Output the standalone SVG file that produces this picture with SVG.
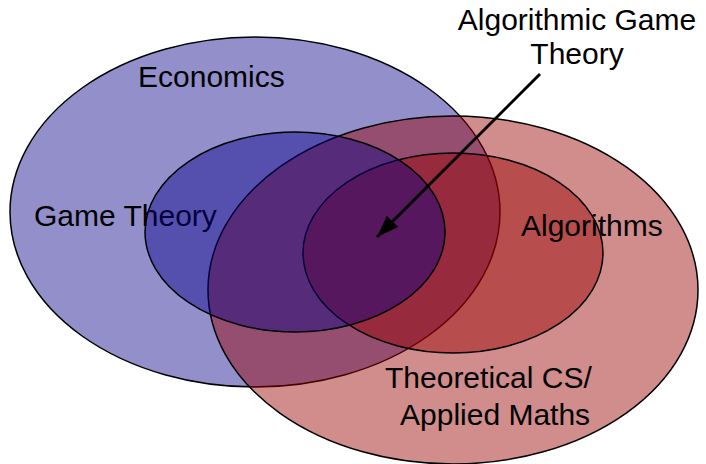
<svg xmlns="http://www.w3.org/2000/svg" width="706" height="464" viewBox="0 0 706 464">
  <style>
    .blue { fill: #060088; fill-opacity: 0.44; stroke: #000; stroke-width: 1.5; }
    .red { fill: #990000; fill-opacity: 0.45; stroke: #000; stroke-width: 1.5; }
    .lbl { font-family: "Liberation Sans", Arial, Helvetica, sans-serif; font-size: 30px; fill: #000; }
    .conn { stroke: #000; stroke-width: 3; fill: none; }
  </style>
  <defs>
    <marker id="arr" markerUnits="userSpaceOnUse" markerWidth="24" markerHeight="18" viewBox="0 0 24 18" refX="22" refY="9" orient="auto">
      <path d="M0,1 L22,9 L0,17 Z" fill="#000"/>
    </marker>
  </defs>
  <rect width="706" height="464" fill="#fff"/>
  <g id="economics">
    <ellipse class="blue" cx="255" cy="212" rx="245" ry="175"/>
    <text class="lbl" x="138" y="87">Economics</text>
  </g>
  <g id="theoretical-cs">
    <ellipse class="red" cx="453" cy="290" rx="245" ry="174"/>
    <text class="lbl" x="385" y="388">Theoretical CS/</text>
    <text class="lbl" x="400" y="425">Applied Maths</text>
  </g>
  <g id="algorithms">
    <ellipse class="red" cx="453" cy="253" rx="150" ry="100"/>
    <text class="lbl" x="521" y="236">Algorithms</text>
  </g>
  <g id="game-theory">
    <text class="lbl" x="34" y="226">Game Theory</text>
    <ellipse class="blue" cx="295" cy="232" rx="150" ry="100"/>
  </g>
  <g id="algorithmic-game-theory">
    <text class="lbl" x="577" y="30" text-anchor="middle">Algorithmic Game</text>
    <text class="lbl" x="577" y="64" text-anchor="middle">Theory</text>
  </g>
  <g id="connectors">
    <line class="conn" x1="540" y1="74" x2="377" y2="237" marker-end="url(#arr)"/>
  </g>
</svg>
